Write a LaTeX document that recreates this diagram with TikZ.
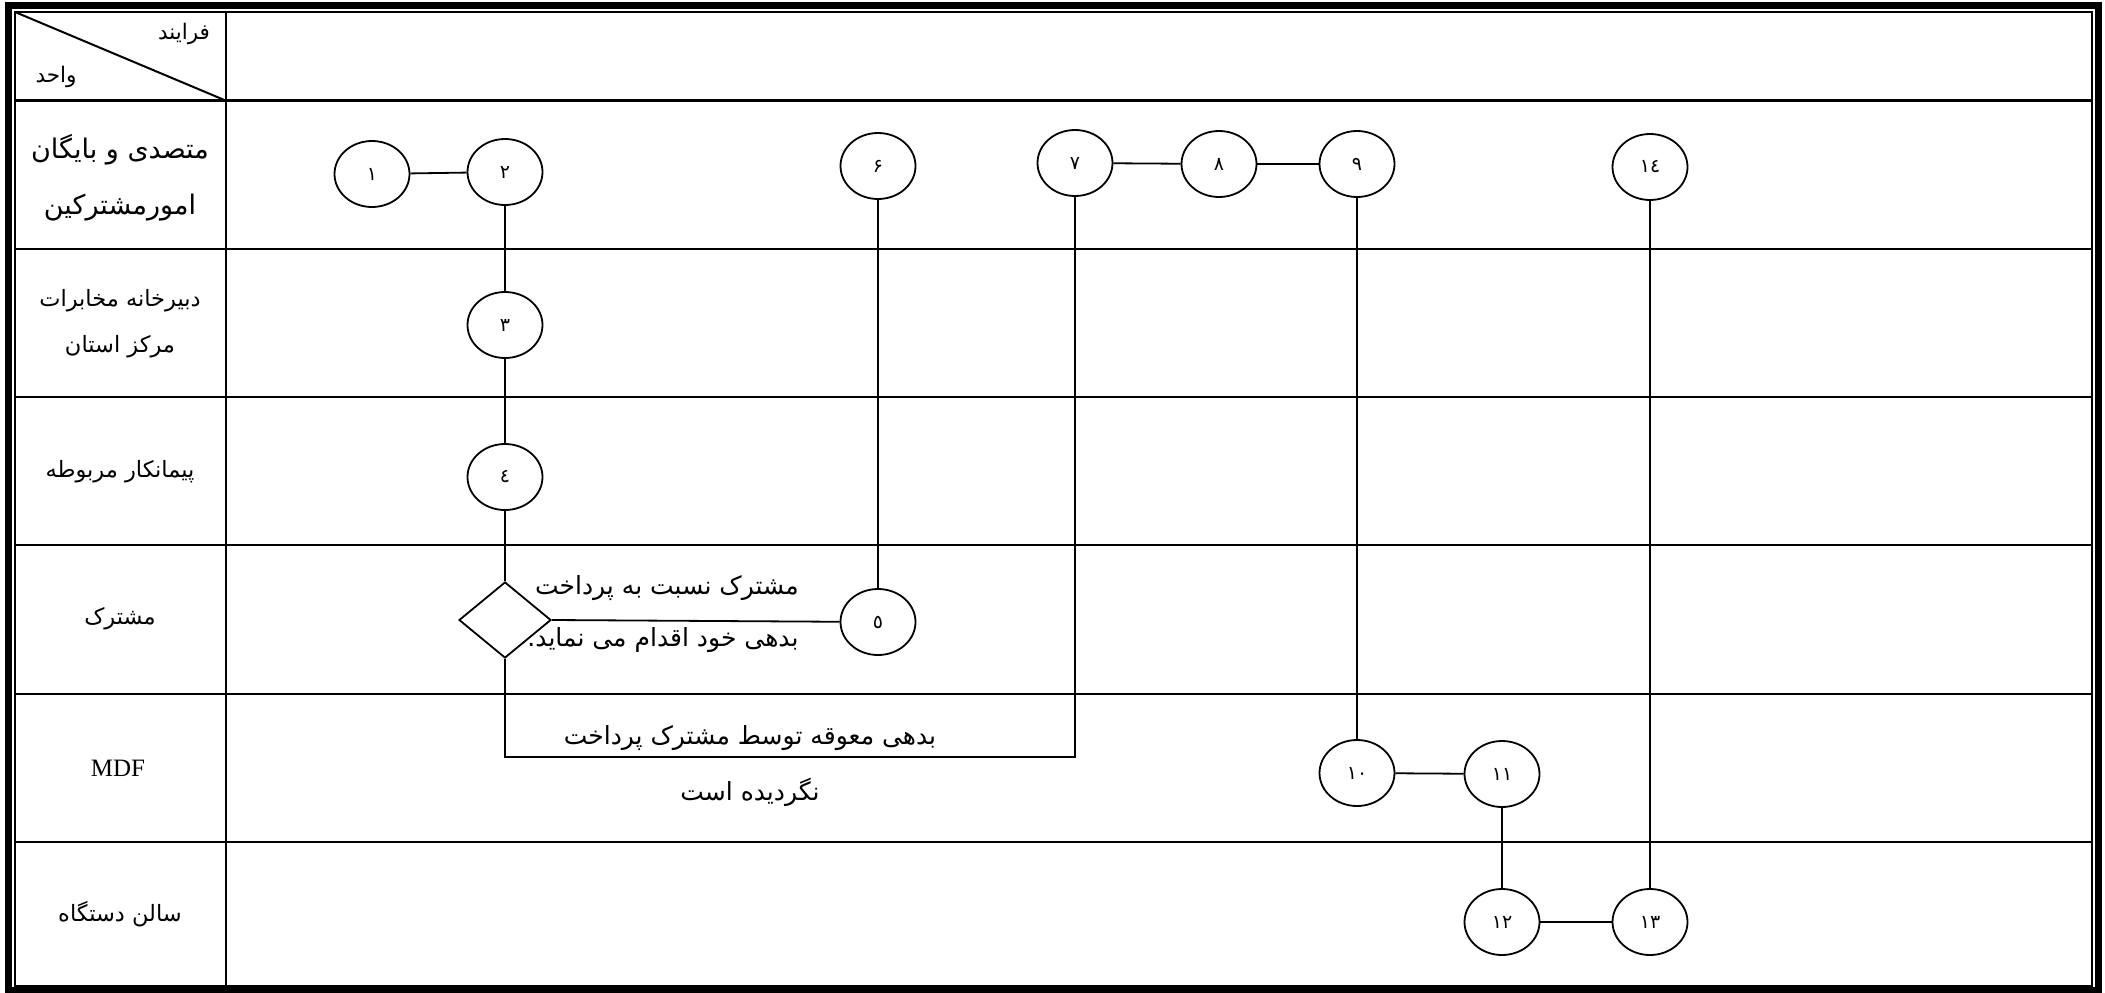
\documentclass[tikz,border=0pt]{standalone}
\usepackage{fontspec}
\setmainfont{Liberation Serif}
\newfontfamily\fa[Script=Arabic]{DejaVu Sans}
\TeXXeTstate=1
\usetikzlibrary{shapes.geometric}
\newcommand{\rtltext}[1]{\beginR #1\endR}
\begin{document}
\begin{tikzpicture}[x=1pt,y=-1pt,
  gridline/.style={line width=2.6pt},
  conn/.style={line width=1.8pt},
  circ/.style={ellipse, draw, line width=1.8pt, minimum width=75pt, minimum height=66pt, inner sep=0pt, font=\fa\fontsize{19}{20}\selectfont},
  lab/.style={font=\fa\fontsize{22.5}{46}\selectfont, align=center, inner sep=0pt},
  labbig/.style={font=\fa\fontsize{27}{56}\selectfont, align=center, inner sep=0pt},
  txt/.style={font=\fa\fontsize{25}{30}\selectfont, inner sep=0pt}]
\useasboundingbox (0,0) rectangle (2105,993);
% frame
\draw[line width=7pt] (8,5.5) rectangle (2098,990);
\draw[line width=2.5pt] (15,12) rectangle (2092,986);
% grid
\foreach \yy in {100.7,249,397,545,694,842}
  \draw[gridline] (15,\yy) -- (2092,\yy);
\draw[gridline] (226,12) -- (226,986);
\draw[line width=2pt] (15,12) -- (226,100.7);
% header
\node[font=\fa\fontsize{21.5}{24}\selectfont, inner sep=0pt] (hproc) at (184,34) {\rtltext{فرایند}};
\node[font=\fa\fontsize{21.5}{24}\selectfont, inner sep=0pt] (hunit) at (56,77) {\rtltext{واحد}};
% lane labels
\node[labbig] (l1) at (120,178) {\rtltext{متصدی و بایگان}\\\rtltext{امورمشترکین}};
\node[lab] (l2) at (120,324) {\rtltext{دبیرخانه مخابرات}\\\rtltext{مرکز استان}};
\node[lab] (l3) at (120,472) {\rtltext{پیمانکار مربوطه}};
\node[lab] (l4) at (120,619) {\rtltext{مشترک}};
\node[font=\fontsize{25}{30}\selectfont, inner sep=0pt] (l5) at (118,768) {MDF};
\node[lab] (l6) at (120,914) {\rtltext{سالن دستگاه}};
% circles
\node[circ] (c1) at (372,174) {۱};
\node[circ] (c2) at (505,172) {۲};
\node[circ] (c3) at (505,325) {۳};
\node[circ] (c4) at (505,477) {٤};
\node[circ] (c5) at (878,622) {٥};
\node[circ] (c6) at (878,166) {۶};
\node[circ] (c7) at (1075,163) {۷};
\node[circ] (c8) at (1219,164) {۸};
\node[circ] (c9) at (1357,164) {۹};
\node[circ] (c10) at (1357,773) {۱۰};
\node[circ] (c11) at (1502,774) {۱۱};
\node[circ] (c12) at (1502,922) {۱۲};
\node[circ] (c13) at (1650,922) {۱۳};
\node[circ] (c14) at (1650,167) {۱٤};
\node[diamond, draw, line width=1.8pt, aspect=1.21, minimum width=92pt, minimum height=76pt, inner sep=0pt] (d) at (505,620) {};
% connectors
\draw[conn] (c1) -- (c2);
\draw[conn] (c2) -- (c3);
\draw[conn] (c3) -- (c4);
\draw[conn] (c4) -- (d.north);
\draw[conn] (d.east) -- (c5);
\draw[conn] (c5) -- (c6);
\coordinate (turn) at (1075,757);
\draw[conn] (d.south) |- (turn) -- (c7.south);
\draw[conn] (c7) -- (c8);
\draw[conn] (c8) -- (c9);
\draw[conn] (c9) -- (c10);
\draw[conn] (c10) -- (c11);
\draw[conn] (c11) -- (c12);
\draw[conn] (c12) -- (c13);
\draw[conn] (c13) -- (c14);
% texts
\node[txt] (t1) at (667,588) {\rtltext{مشترک نسبت به پرداخت}};
\node[txt] (t2) at (663,640) {.\rtltext{بدهی خود اقدام می نماید}};
\node[txt] (t3) at (750,738) {\rtltext{بدهی معوقه توسط مشترک پرداخت}};
\node[txt] (t4) at (750,792) {\rtltext{نگردیده است}};
\end{tikzpicture}
\end{document}
